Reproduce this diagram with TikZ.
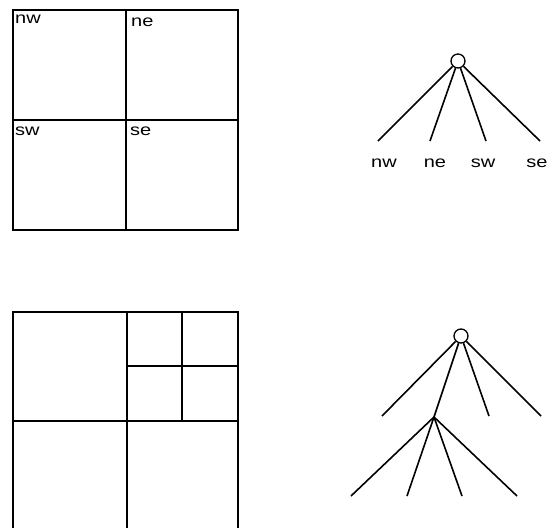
\documentclass[tikz,border=0pt]{standalone}
\usepackage{fontspec}
\setmainfont{Liberation Sans}
\begin{document}
\begin{tikzpicture}[x=1pt,y=-1pt,
  grid/.style={line width=1.8pt},
  branch/.style={line width=1.6pt},
  rootnode/.style={circle,draw,line width=1.3pt,minimum size=14pt,inner sep=0pt},
  lbl/.style={inner sep=0pt,font=\fontsize{16}{16}\selectfont},
  leaf/.style={lbl,anchor=base}]
\useasboundingbox (0,0) rectangle (547,528);
\clip (0,0) rectangle (547,528);
% top quadtree square
\draw[grid] (13,10) rectangle (238,230);
\draw[grid] (126,10) -- (126,230);
\draw[grid] (13,120) -- (238,120);
\node[lbl,anchor=base west] (qnw) at (15,23) {\scalebox{1.25}[1]{nw}};
\node[lbl,anchor=base west] (qne) at (131,26) {\scalebox{1.25}[1]{ne}};
\node[lbl,anchor=base west] (qsw) at (15,135) {\scalebox{1.25}[1]{sw}};
\node[lbl,anchor=base west] (qse) at (130,135) {\scalebox{1.25}[1]{se}};
% top tree
\node[rootnode] (r1) at (458,61) {};
\coordinate (a1) at (378,141);
\coordinate (a2) at (430,141);
\coordinate (a3) at (486,141);
\coordinate (a4) at (540,141);
\foreach \c in {a1,a2,a3,a4} \draw[branch] (r1) -- (\c);
\node[leaf] (tnw) at (384,167) {\scalebox{1.25}[1]{nw}};
\node[leaf] (tne) at (435,167) {\scalebox{1.25}[1]{ne}};
\node[leaf] (tsw) at (483,167) {\scalebox{1.25}[1]{sw}};
\node[leaf] (tse) at (537,167) {\scalebox{1.25}[1]{se}};
% bottom quadtree square
\draw[grid] (13,312) rectangle (238,537);
\draw[grid] (127,312) -- (127,537);
\draw[grid] (13,421) -- (238,421);
\draw[grid] (182,312) -- (182,421);
\draw[grid] (127,366) -- (238,366);
% bottom tree
\node[rootnode] (r2) at (461,336) {};
\coordinate (c2) at (434,417);
\coordinate (b1) at (382,416);
\coordinate (b3) at (489,416);
\coordinate (b4) at (541,416);
\foreach \c in {b1,c2,b3,b4} \draw[branch] (r2) -- (\c);
\coordinate (d1) at (351,496);
\coordinate (d2) at (407,496);
\coordinate (d3) at (462,496);
\coordinate (d4) at (517,496);
\foreach \c in {d1,d2,d3,d4} \draw[branch] (c2) -- (\c);
\end{tikzpicture}
\end{document}
